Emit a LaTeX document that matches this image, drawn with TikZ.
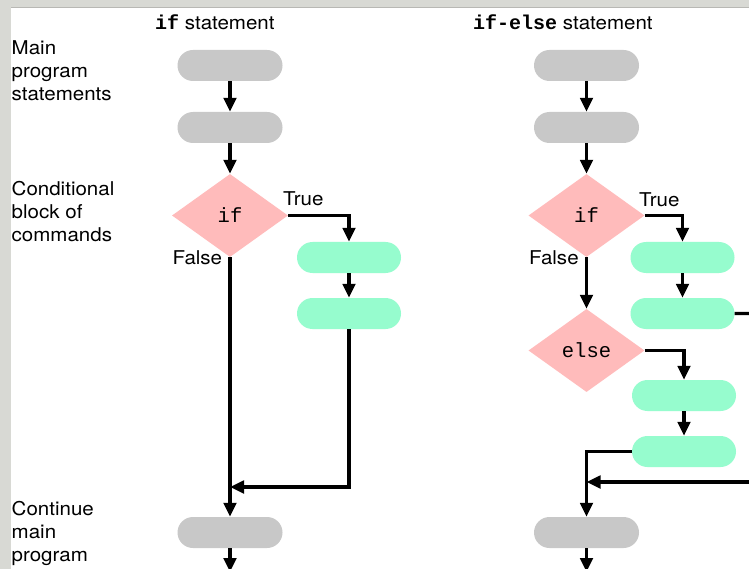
\documentclass[tikz,border=0pt]{standalone}
\usepackage{fontspec}
\setmainfont[FakeStretch=1.08]{TeX Gyre Heros}
\setmonofont{Liberation Mono}
\usetikzlibrary{arrows.meta,shapes.geometric,shapes.misc}
\definecolor{fondo}{RGB}{216,217,212}
\definecolor{gris}{RGB}{200,200,200}
\definecolor{verde}{RGB}{150,252,206}
\definecolor{rosa}{RGB}{255,187,187}
\newcommand{\cod}[1]{{\fontsize{20}{22}\selectfont\ttfamily #1}}
\begin{document}
\begin{tikzpicture}[x=1pt, y=-1pt, >={Triangle[length=14pt,width=12.5pt]},
  font=\fontsize{19}{23}\selectfont,
  paso/.style={rounded rectangle, fill=gris, minimum width=105pt, minimum height=31pt, inner sep=0pt},
  bloque/.style={paso, fill=verde, minimum width=104pt},
  rombo/.style={diamond, fill=rosa, minimum width=116pt, minimum height=83pt, inner sep=0pt, font=\fontsize{20.5}{22}\selectfont\ttfamily},
  flecha/.style={->, line width=3.2pt},
  rotulo/.style={align=left, anchor=north west, inner sep=0pt},
  marca/.style={anchor=base west, inner sep=0pt}]
\useasboundingbox (0,0) rectangle (749,569);
\fill[fondo] (0,0) rectangle (749,569);
\fill[white] (11,8) rectangle (749,569);
\draw[fondo!85!black, line width=1pt] (11,7.5) -- (749,7.5);
% titles and row labels
\node[marca] (t1) at (155,30) {\cod{\bfseries if} statement};
\node[marca] (t2) at (473,30) {\cod{\bfseries if-else} statement};
\node[rotulo] (l1) at (11.5,40) {Main\\program\\statements};
\node[rotulo] (l2) at (11.5,181) {Conditional\\block of\\commands};
\node[rotulo] (l3) at (11.5,501) {Continue\\main\\program};
% if
\node[paso] (a1) at (230,65.5) {};
\node[paso] (a2) at (230,127.5) {};
\node[rombo] (si1) at (230,215.5) {if};
\node[bloque] (v1) at (349,257.5) {};
\node[bloque] (v2) at (349,313.5) {};
\node[paso] (a3) at (230,532.5) {};
\coordinate (j1) at (230,487);
\coordinate (s1) at (230,572);
\node[marca] (c1) at (283,206) {True};
\node[marca] (f1) at (172.5,265) {False};
\draw[flecha] (a1) -- (a2);
\draw[flecha] (a2) -- (si1);
\draw[flecha] (si1.east) -| (v1);
\draw[flecha] (v1) -- (v2);
\draw[flecha] (v2) |- (j1);
\draw[flecha] (si1) -- (a3);
\draw[flecha] (a3) -- (s1);
% if-else
\node[paso] (b1) at (586.5,65.5) {};
\node[paso] (b2) at (586.5,127.5) {};
\node[rombo] (si2) at (586.5,215.5) {if};
\node[bloque] (w1) at (682.5,257.5) {};
\node[bloque] (w2) at (682.5,313.5) {};
\node[rombo] (no2) at (586.5,350.5) {else};
\node[bloque] (w3) at (684,395.5) {};
\node[bloque] (w4) at (684,451.5) {};
\node[paso] (b3) at (586.5,532.5) {};
\coordinate (e2) at (760,313.5);
\coordinate (r2) at (760,482);
\coordinate (j2) at (586.5,482);
\coordinate (s2) at (586.5,572);
\node[marca] (c2) at (639,206.5) {True};
\node[marca] (f2) at (529,265) {False};
\draw[flecha] (b1) -- (b2);
\draw[flecha] (b2) -- (si2);
\draw[flecha] (si2.east) -| (w1);
\draw[flecha] (w1) -- (w2);
\draw[line width=3.2pt] (w2) -- (e2);
\draw[flecha] (si2) -- (no2);
\draw[flecha] (no2.east) -| (w3);
\draw[flecha] (w3) -- (w4);
\draw[flecha] (w4) -| (b3);
\draw[flecha] (r2) -- (j2);
\draw[flecha] (b3) -- (s2);
\end{tikzpicture}
\end{document}
